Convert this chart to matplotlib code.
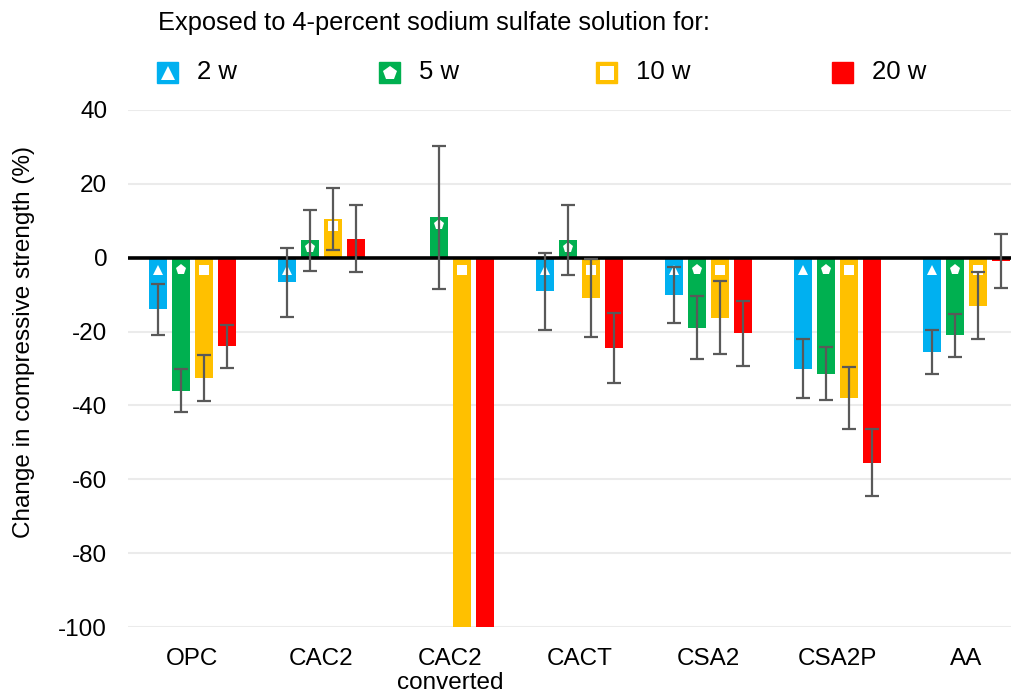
import numpy as np
import matplotlib
matplotlib.use("Agg")
import matplotlib.pyplot as plt
from matplotlib.patches import Rectangle
from matplotlib.lines import Line2D

plt.rcParams['font.family'] = ['Liberation Sans', 'DejaVu Sans']

categories = ["OPC", "CAC2", "CAC2\nconverted", "CACT", "CSA2", "CSA2P", "AA"]
series_names = ["2 w", "5 w", "10 w", "20 w"]
vals_2w = [-14.0, -6.7, np.nan, -9.1, -10.0, -30.0, -25.5]
vals_5w = [-36.0, 4.7, 10.9, 4.7, -19.0, -31.4, -21.0]
vals_10w = [-32.5, 10.5, -100.0, -10.9, -16.2, -38.0, -13.0]
vals_20w = [-24.0, 5.2, -100.0, -24.4, -20.5, -55.5, -0.9]
err_2w = [7.0, 9.4, np.nan, 10.5, 7.6, 8.1, 5.9]
err_5w = [5.9, 8.3, 19.3, 9.5, 8.5, 7.2, 5.8]
err_10w = [6.2, 8.3, np.nan, 10.6, 9.9, 8.5, 9.0]
err_20w = [5.9, 9.0, np.nan, 9.4, 8.8, 9.0, 7.4]
yticks = [-100, -80, -60, -40, -20, 0, 20, 40]

values = [vals_2w, vals_5w, vals_10w, vals_20w]
errors = [err_2w, err_5w, err_10w, err_20w]
colors = ["#00B0F0", "#00B050", "#FFC000", "#FF0000"]
markers = ["^", "p", "s", None]
marker_sizes = [7.5, 8, 6.5, 0]
legend_marker_sizes = [9.5, 10, 9.5, 0]

fig = plt.figure(figsize=(10.11, 6.94), dpi=100)
ax = fig.add_axes([0.1266, 0.0965, 0.8734, 0.745])

x = np.arange(len(categories))
step = 0.179
width = 0.14
for i, (v, e, c, m, ms) in enumerate(zip(values, errors, colors, markers, marker_sizes)):
    v = np.array(v, dtype=float)
    e = np.array(e, dtype=float)
    xi = x + (i - 1.5) * step
    ax.bar(xi, v, width, color=c, zorder=2)
    ok = ~np.isnan(e)
    ax.errorbar(xi[ok], v[ok], yerr=e[ok], fmt='none', ecolor='#595959',
                elinewidth=1.6, capsize=5, capthick=1.6, zorder=5)
    if m is not None:
        okv = ~np.isnan(v)
        my = np.where(v[okv] > 0, v[okv] - 2.0, -3.4)
        ax.plot(xi[okv], my, linestyle='none', marker=m, color='white',
                markersize=ms, markeredgewidth=0, zorder=4)

ax.axhline(0, color='black', lw=2.6, zorder=3)
ax.set_ylim(-100, 40)
ax.set_xlim(-0.5, 6.345)
ax.set_yticks(yticks)
ax.set_yticklabels([str(t) for t in yticks], fontsize=17.5)
ax.set_xticks(x)
ax.set_xticklabels(categories, fontsize=17.5, linespacing=1.12)
ax.tick_params(axis='both', length=0)
ax.tick_params(axis='y', pad=15)
ax.tick_params(axis='x', pad=15)
ax.grid(axis='y', color='#EBEBEB', lw=1.5, zorder=0)
ax.set_axisbelow(True)
for s in ax.spines.values():
    s.set_visible(False)
ax.set_ylabel("Change in compressive strength (%)", fontsize=17.5)
ax.yaxis.set_label_coords(-0.1055, 0.551)

# Legend (title + entries)
W, H = 1011, 694
fig.text(158 / W, 1 - 23 / H, "Exposed to 4-percent sodium sulfate solution for:",
         fontsize=18.3, va='center', ha='left')
patch_x = [157, 379, 596, 832]
for px, name, c, m, ms in zip(patch_x, series_names, colors, markers, legend_marker_sizes):
    fig.patches.append(Rectangle((px / W, 1 - 83 / H), 21 / W, 21 / H,
                                 transform=fig.transFigure, color=c))
    if m is not None:
        fig.lines.append(Line2D([(px + 10.5) / W], [1 - 72.5 / H], marker=m, color='white',
                                markersize=ms, markeredgewidth=0, linestyle='none',
                                transform=fig.transFigure))
    fig.text((px + 40) / W, 1 - 72 / H, name, fontsize=18.5, va='center', ha='left')

fig.savefig("out.png", dpi=100)
